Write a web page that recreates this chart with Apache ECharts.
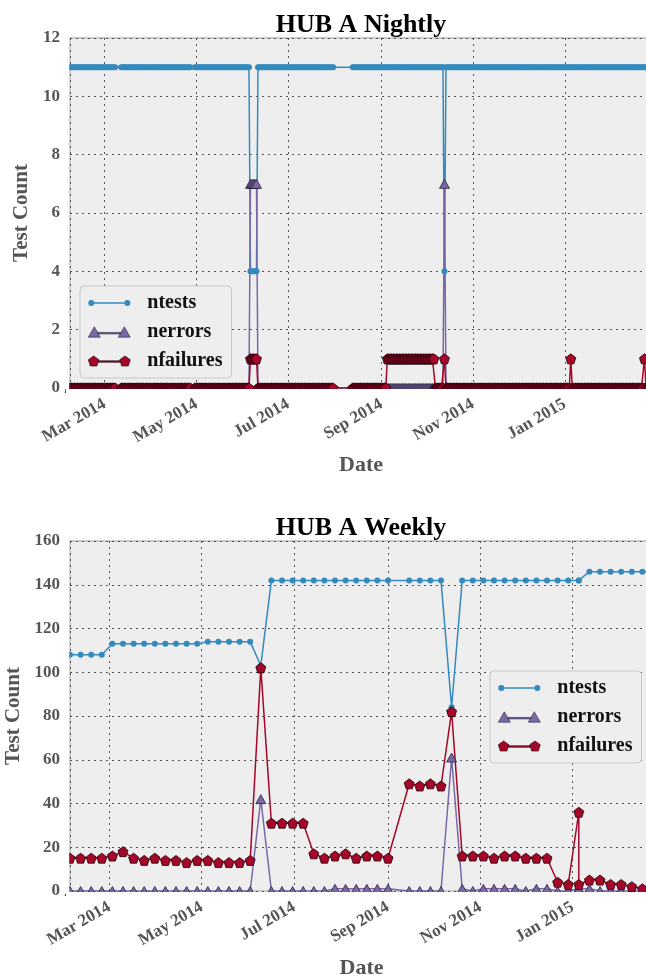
<!DOCTYPE html>
<html><head><meta charset="utf-8">
<script src="https://cdn.jsdelivr.net/npm/echarts@6/dist/echarts.min.js"></script>
<style>html,body{margin:0;padding:0;background:#fff}#chart{width:646px;height:976px}</style>
</head><body><div id="chart"></div>
<script>
// ---------- DATA ----------
const monthLabels = ['Jan','Feb','Mar','Apr','May','Jun','Jul','Aug','Sep','Oct','Nov','Dec'];
const seriesNames = ['ntests','nerrors','nfailures'];

// Nightly: runs of consecutive days with constant values
const nightlyRunStart = ['2014-02-06','2014-03-12','2014-04-30','2014-06-06','2014-06-11','2014-08-13','2014-09-05','2014-10-07','2014-10-13','2014-10-14','2015-01-05','2015-01-06','2015-02-23','2015-02-24','2015-02-28'];
const nightlyRunEnd   = ['2014-03-08','2014-04-27','2014-06-05','2014-06-10','2014-07-31','2014-09-04','2014-10-06','2014-10-12','2014-10-13','2015-01-04','2015-01-05','2015-02-22','2015-02-23','2015-02-27','2015-02-28'];
const nightlyNtests    = [11,11,11,4,11,11,11,11,4,11,11,11,11,11,11];
const nightlyNerrors   = [0,0,0,7,0,0,0,0,7,0,0,0,0,0,7];
const nightlyNfailures = [0,0,0,1,0,0,1,0,1,0,1,0,1,0,3];

// Weekly
const weeklyDates = ['2014-02-03','2014-02-10','2014-02-17','2014-02-24','2014-03-03','2014-03-10','2014-03-17','2014-03-24','2014-03-31','2014-04-07','2014-04-14','2014-04-21','2014-04-28','2014-05-05','2014-05-12','2014-05-19','2014-05-26','2014-06-02','2014-06-09','2014-06-16','2014-06-23','2014-06-30','2014-07-07','2014-07-14','2014-07-21','2014-07-28','2014-08-04','2014-08-11','2014-08-18','2014-08-25','2014-09-01','2014-09-15','2014-09-22','2014-09-29','2014-10-06','2014-10-13','2014-10-20','2014-10-27','2014-11-03','2014-11-10','2014-11-17','2014-11-24','2014-12-01','2014-12-08','2014-12-15','2014-12-22','2014-12-29','2015-01-05','2015-01-05','2015-01-12','2015-01-19','2015-01-26','2015-02-02','2015-02-09','2015-02-16','2015-02-23'];
const weeklyNtests = [108,108,108,108,113,113,113,113,113,113,113,113,113,114,114,114,114,114,103,142,142,142,142,142,142,142,142,142,142,142,142,142,142,142,142,84,142,142,142,142,142,142,142,142,142,142,142,142,142,146,146,146,146,146,146,146];
const weeklyNerrors = [0,0,0,0,0,0,0,0,0,0,0,0,0,0,0,0,0,0,42,0,0,0,0,0,0,1,1,1,1,1,1,0,0,0,0,61,1,0,1,1,1,1,0,1,1,0,0,1,1,1,0,0,0,0,0,0];
const weeklyNfailures = [15,15,15,15,16,18,15,14,15,14,14,13,14,14,13,13,13,14,102,31,31,31,31,17,15,16,17,15,16,16,15,49,48,49,48,82,16,16,16,15,16,16,15,15,15,4,3,36,3,5,5,3,3,2,1,1];

const nightlyRange = ['2014-02-06','2015-02-28'];
const weeklyRange  = ['2014-02-03','2015-02-23'];
const nightlyYTicks = [0,12,2];
const weeklyYTicks  = [0,160,20];

// ---------- HELPERS ----------
const DAY = 86400000;
function ts(s){ const p = s.split('-'); return Date.UTC(+p[0], +p[1]-1, +p[2]); }
function expandRuns(values){
  const out = [];
  for (let i = 0; i < nightlyRunStart.length; i++) {
    for (let t = ts(nightlyRunStart[i]); t <= ts(nightlyRunEnd[i]); t += DAY) out.push([t, values[i]]);
  }
  return out;
}
function weekly(values){ return weeklyDates.map((d,i)=>[ts(d), values[i]]); }

const FONT = "'Liberation Serif','DejaVu Serif',serif";
const BLUE = '#348ABD', PURPLE = '#7A68A6', RED = '#A60628';
const PENT = 'path://M0,-1L0.951,-0.309L0.588,0.809L-0.588,0.809L-0.951,-0.309Z';
const iconCircle = 'path://M0,6a3,3 0 1,0 6,0a3,3 0 1,0 -6,0z M36,6a3,3 0 1,0 6,0a3,3 0 1,0 -6,0z M6,5.25h30v1.5h-30z';
const iconTri = 'path://M0,11L6,0.6L12,11Z M30,11L36,0.6L42,11Z M9.5,6.25h23v1.5h-23z';
const iconPent = 'path://M5.5,0.5L10.73,4.3L8.73,10.45L2.27,10.45L0.27,4.3Z M36.5,0.5L41.73,4.3L39.73,10.45L33.27,10.45L31.27,4.3Z M10.2,5.25h21.6v1.5h-21.6z';

const gridL = 70;
const grids = [
  {left: gridL, top: 38, width: 582, height: 350},
  {left: gridL, top: 541, width: 583, height: 350}
];

function xAxisOf(i, range){
  return {
    type: 'time', gridIndex: i, min: ts(range[0]), max: ts(range[1]),
    minInterval: 65*DAY, maxInterval: 65*DAY,
    axisLine: {show: false}, axisTick: {show: false},
    splitLine: {show: true, lineStyle: {color: '#555', width: 1, type: [2, 4]}},
    axisLabel: {
      rotate: 30, margin: 15, fontFamily: FONT, fontWeight: 'bold', fontSize: 17, color: '#555',
      formatter: v => { const d = new Date(v); return monthLabels[d.getUTCMonth()] + ' ' + d.getUTCFullYear(); }
    },
    name: 'Date', nameLocation: 'middle', nameGap: 66,
    nameTextStyle: {fontFamily: FONT, fontWeight: 'bold', fontSize: 22, color: '#555'}
  };
}
function yAxisOf(i, t, gap){
  return {
    type: 'value', gridIndex: i, min: t[0], max: t[1], interval: t[2],
    axisLine: {show: false}, axisTick: {show: false},
    splitLine: {show: true, lineStyle: {color: '#555', width: 1, type: [2, 4]}},
    axisLabel: {margin: 10, fontFamily: FONT, fontWeight: 'bold', fontSize: 17, color: '#555'},
    name: 'Test Count', nameLocation: 'middle', nameGap: gap,
    nameTextStyle: {fontFamily: FONT, fontWeight: 'bold', fontSize: 21, color: '#555'}
  };
}
function lineSeries(name, idx, data, kind){
  const base = {
    name, type: 'line', xAxisIndex: idx, yAxisIndex: idx, data,
    showAllSymbol: true, animation: false, clip: true,
    emphasis: {disabled: true}
  };
  if (kind === 0) Object.assign(base, {symbol: 'circle', symbolSize: 6,
    lineStyle: {color: BLUE, width: 1.5}, itemStyle: {color: BLUE, borderWidth: 0}});
  if (kind === 1) Object.assign(base, {symbol: 'triangle', symbolSize: [10, 9],
    lineStyle: {color: PURPLE, width: 1.5}, itemStyle: {color: PURPLE, borderColor: '#2b2340', borderWidth: 0.8}});
  if (kind === 2) Object.assign(base, {symbol: PENT, symbolSize: 10,
    lineStyle: {color: RED, width: 1.5}, itemStyle: {color: RED, borderColor: '#1a0006', borderWidth: 0.8}});
  return base;
}
function legendOf(left, top){
  return {
    left, top, orient: 'vertical', selectedMode: false,
    backgroundColor: '#eeeeee', borderColor: '#c8c8c8', borderWidth: 1, borderRadius: 4,
    padding: [7, 9, 7, 8], itemGap: 9, itemWidth: 42, itemHeight: 12,
    textStyle: {fontFamily: FONT, fontWeight: 'bold', fontSize: 20, color: '#111', padding: [0, 0, 0, 12]},
    data: [
      {name: seriesNames[0], icon: iconCircle},
      {name: seriesNames[1], icon: iconTri, itemStyle: {borderWidth: 0.6}},
      {name: seriesNames[2], icon: iconPent, itemStyle: {borderWidth: 0.6}}
    ]
  };
}

const option = {
  useUTC: true,
  animation: false,
  backgroundColor: '#ffffff',
  textStyle: {fontFamily: FONT},
  title: [
    {text: 'HUB A Nightly', left: gridL + 291, top: 12, textAlign: 'center', padding: 0,
     textStyle: {fontFamily: FONT, fontWeight: 'bold', fontSize: 26, color: '#000'}},
    {text: 'HUB A Weekly', left: gridL + 291, top: 515, textAlign: 'center', padding: 0,
     textStyle: {fontFamily: FONT, fontWeight: 'bold', fontSize: 26, color: '#000'}}
  ],
  grid: grids.map(g => Object.assign({show: true, backgroundColor: '#eeeeee', borderColor: '#bcbcbc', borderWidth: 1.5, containLabel: false, outerBoundsMode: 'none'}, g)),
  xAxis: [xAxisOf(0, nightlyRange), xAxisOf(1, weeklyRange)],
  yAxis: [yAxisOf(0, nightlyYTicks, 36), yAxisOf(1, weeklyYTicks, 44)],
  legend: [legendOf(80, 286), legendOf(490, 671)],
  series: [
    lineSeries('ntests', 0, expandRuns(nightlyNtests), 0),
    lineSeries('nerrors', 0, expandRuns(nightlyNerrors), 1),
    lineSeries('nfailures', 0, expandRuns(nightlyNfailures), 2),
    lineSeries('ntests', 1, weekly(weeklyNtests), 0),
    lineSeries('nerrors', 1, weekly(weeklyNerrors), 1),
    lineSeries('nfailures', 1, weekly(weeklyNfailures), 2)
  ],
  graphic: [
    {type: 'rect', silent: true, z: 100, shape: {x: 66, y: 389, width: 600, height: 6}, style: {fill: '#fff'}},
    {type: 'rect', silent: true, z: 100, shape: {x: 66, y: 892, width: 600, height: 6}, style: {fill: '#fff'}},
    {type: 'rect', silent: true, z: 100, shape: {x: 62.5, y: 38, width: 6.7, height: 351}, style: {fill: '#fff'}},
    {type: 'rect', silent: true, z: 100, shape: {x: 62.5, y: 541, width: 6.7, height: 351}, style: {fill: '#fff'}}
  ]
};
const chart = echarts.init(document.getElementById('chart'), null, {renderer: 'canvas'});
chart.setOption(option);
</script></body></html>
